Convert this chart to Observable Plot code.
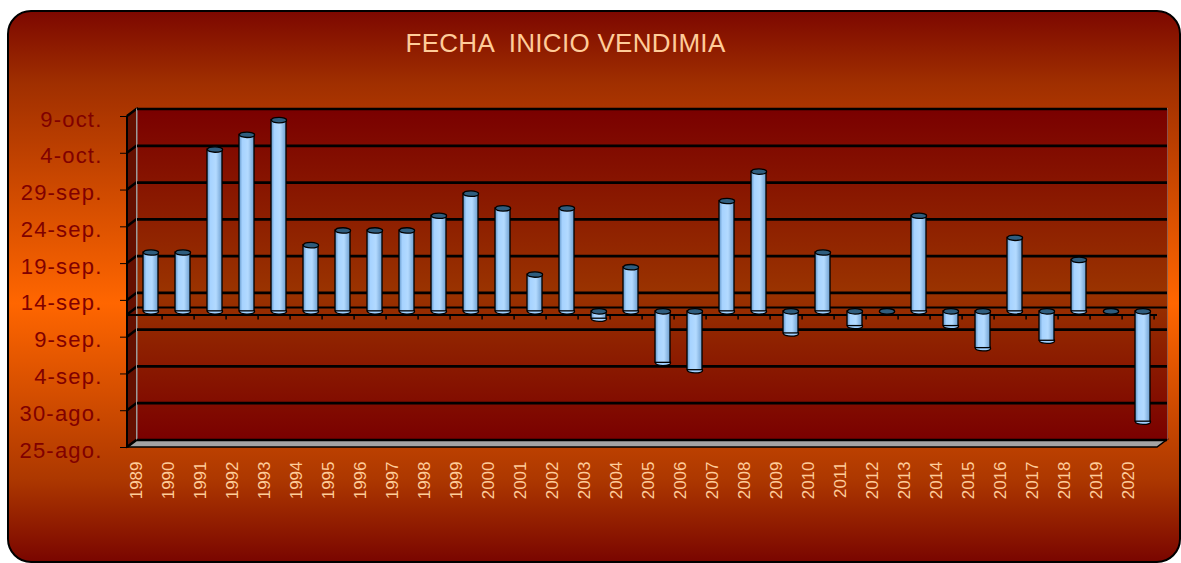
<!DOCTYPE html>
<html><head><meta charset="utf-8">
<script src="https://cdn.jsdelivr.net/npm/d3@7"></script>
<script src="https://cdn.jsdelivr.net/npm/@observablehq/plot@0.6"></script>
<style>
html,body{margin:0;padding:0;background:#fff;}
#wrap{position:relative;width:1181px;height:563px;overflow:hidden;}
#box{position:absolute;left:7px;top:10px;width:1174px;height:553px;box-sizing:border-box;border:2px solid #000;border-radius:24px;
background:linear-gradient(to bottom,#7d0800 0%,#a02f00 13%,#ff6600 53%,#ad3800 85%,#7a0600 100%);}
#title{position:absolute;left:0;top:28px;width:1131px;text-align:center;font-family:"Liberation Sans",Arial,sans-serif;font-size:26px;line-height:30px;color:#ffcc99;letter-spacing:0.3px;white-space:pre;}
#chart{position:absolute;left:0;top:0;}
#chart svg g[aria-label^="y-axis"] text{fill:#800000;font-size:22px;letter-spacing:1.2px;font-family:"Liberation Sans",Arial,sans-serif;translate:0px 3px;}
</style></head>
<body><div id="wrap"><div id="box"></div><div id="title">FECHA  INICIO VENDIMIA</div><div id="chart"></div></div>
<script>
const years = ["1989","1990","1991","1992","1993","1994","1995","1996","1997","1998","1999","2000","2001","2002","2003","2004","2005","2006","2007","2008","2009","2010","2011","2012","2013","2014","2015","2016","2017","2018","2019","2020"];
const startDates = ["20-sep","20-sep","4-oct","6-oct","8-oct","21-sep","23-sep","23-sep","23-sep","25-sep","28-sep","26-sep","17-sep","26-sep","11-sep","18-sep","5-sep","4-sep","27-sep","1-oct","9-sep","20-sep","10-sep","12-sep","25-sep","10-sep","7-sep","22-sep","8-sep","19-sep","12-sep","28-ago"];
const baselineLabel = "12-sep";
const tickLabels = ["25-ago.","30-ago.","4-sep.","9-sep.","14-sep.","19-sep.","24-sep.","29-sep.","4-oct.","9-oct."];

const monthIndex = {ago:7, sep:8, oct:9};
const monthName = {7:"ago", 8:"sep", 9:"oct"};
const parseDay = s => { const [d, m] = s.replace(".", "").split("-"); return new Date(Date.UTC(2001, monthIndex[m], +d)); };
const fmt = d => `${d.getUTCDate()}-${monthName[d.getUTCMonth()]}.`;

const baseline = parseDay(baselineLabel);
const tickDates = tickLabels.map(parseDay);
const data = years.map((year, i) => ({year, date: parseDay(startDates[i])}));
const lo = d => (d.date < baseline ? d.date : baseline);
const hi = d => (d.date > baseline ? d.date : baseline);

const W = 1181, H = 563, mL = 127, mR = 24, mT = 116, mB = 116;
const depthX = 10, depthY = -7.5;
const barDX = depthX / 2, barDY = depthY / 2;

const k = 0.5523;
const ellipse = {draw(ctx) {
  const rx = 7.6, ry = 2.7;
  ctx.moveTo(rx, 0);
  ctx.bezierCurveTo(rx, ry * k, rx * k, ry, 0, ry);
  ctx.bezierCurveTo(-rx * k, ry, -rx, ry * k, -rx, 0);
  ctx.bezierCurveTo(-rx, -ry * k, -rx * k, -ry, 0, -ry);
  ctx.bezierCurveTo(rx * k, -ry, rx, -ry * k, rx, 0);
  ctx.closePath();
}};

const chart = Plot.plot({
  width: W, height: H,
  marginLeft: mL, marginRight: mR, marginTop: mT, marginBottom: mB,
  style: {background: "transparent", overflow: "visible", color: "#000", fontFamily: "Liberation Sans, Arial, sans-serif"},
  x: {type: "band", domain: years, paddingInner: 0.53, paddingOuter: 0.265, axis: null},
  y: {type: "utc", domain: [tickDates[0], tickDates[tickDates.length - 1]], ticks: tickDates, tickFormat: fmt, tickSize: 7, tickPadding: 18, label: null},
  marks: [
    Plot.frame({fill: "url(#wallGrad)", stroke: "none", dx: depthX, dy: depthY}),
    Plot.ruleY(tickDates, {stroke: "#000", strokeWidth: 2.7, dx: depthX, dy: depthY}),
    Plot.ruleY([baseline], {stroke: "#000", strokeWidth: 2, dx: depthX, dy: depthY}),
    Plot.ruleY([baseline], {stroke: "#000", strokeWidth: 2}),
    Plot.ruleX(years, {x: d => d, y1: () => baseline, y2: () => d3.utcHour.offset(baseline, -16), stroke: "#000", strokeWidth: 1.5, dx: (W - mL - mR) / years.length / 2}),
    Plot.dot(data, {x: "year", y: lo, symbol: ellipse, fill: "#9fcfff", stroke: "#000", strokeWidth: 1.3, dx: barDX, dy: barDY}),
    Plot.barY(data, {x: "year", y1: lo, y2: hi, fill: "url(#barGrad)", stroke: "#000", strokeWidth: 1.3, dx: barDX, dy: barDY}),
    Plot.dot(data, {x: "year", y: hi, symbol: ellipse, fill: "#2f5d7e", stroke: "#000", strokeWidth: 1.3, dx: barDX, dy: barDY}),
    Plot.text(years, {x: d => d, y: () => tickDates[0], text: d => d, rotate: -90, textAnchor: "end", lineAnchor: "middle", dy: 14, dx: -9, fontSize: 17, fill: "#ffcc99"})
  ]
});
document.getElementById("chart").appendChild(chart);

// gradients and 3D side/floor decoration
const svg = d3.select(chart);
const defs = svg.insert("defs", ":first-child");
const wall = defs.append("linearGradient").attr("id", "wallGrad").attr("x1", 0).attr("y1", 0).attr("x2", 0).attr("y2", 1);
[[0, "#7a0000"], [0.55, "#9a3300"], [1, "#7a0000"]].forEach(([o, c]) => wall.append("stop").attr("offset", o).attr("stop-color", c));
const bar = defs.append("linearGradient").attr("id", "barGrad").attr("x1", 0).attr("y1", 0).attr("x2", 1).attr("y2", 0);
[[0, "#5f93c6"], [0.22, "#a6d3ff"], [0.6, "#b3daff"], [1, "#6e9fd0"]].forEach(([o, c]) => bar.append("stop").attr("offset", o).attr("stop-color", c));

const ys = chart.scale("y");
const yOf = d => ys.apply ? ys.apply(d) : d3.scaleUtc(ys.domain, ys.range)(d);
const yt = yOf(tickDates[tickDates.length - 1]), yb = yOf(tickDates[0]);
const g = svg.insert("g", () => defs.node().nextSibling);
g.append("polygon").attr("points", [[mL, yb], [mL, yt], [mL + depthX, yt + depthY], [mL + depthX, yb + depthY]].join(" "))
  .attr("fill", "#651000").attr("stroke", "#000").attr("stroke-width", 1.5);
g.append("polygon").attr("points", [[mL, yb], [mL + depthX, yb + depthY], [W - mR + depthX, yb + depthY], [W - mR, yb]].join(" "))
  .attr("fill", "#a4a4a4").attr("stroke", "#000").attr("stroke-width", 1.5);
[...tickDates, baseline].forEach(t => {
  const y = yOf(t);
  g.append("line").attr("x1", mL).attr("y1", y).attr("x2", mL + depthX).attr("y2", y + depthY).attr("stroke", "#000").attr("stroke-width", 2.5);
});
g.append("line").attr("x1", mL + depthX).attr("x2", mL + depthX).attr("y1", yt + depthY).attr("y2", yb + depthY).attr("stroke", "#9a9a9a").attr("stroke-width", 2);
g.append("line").attr("x1", W - mR + depthX).attr("x2", W - mR + depthX).attr("y1", yt + depthY).attr("y2", yb + depthY).attr("stroke", "#9a9a9a").attr("stroke-width", 2);
g.append("line").attr("x1", mL).attr("x2", mL).attr("y1", yt).attr("y2", yb).attr("stroke", "#000").attr("stroke-width", 2);
</script></body></html>
